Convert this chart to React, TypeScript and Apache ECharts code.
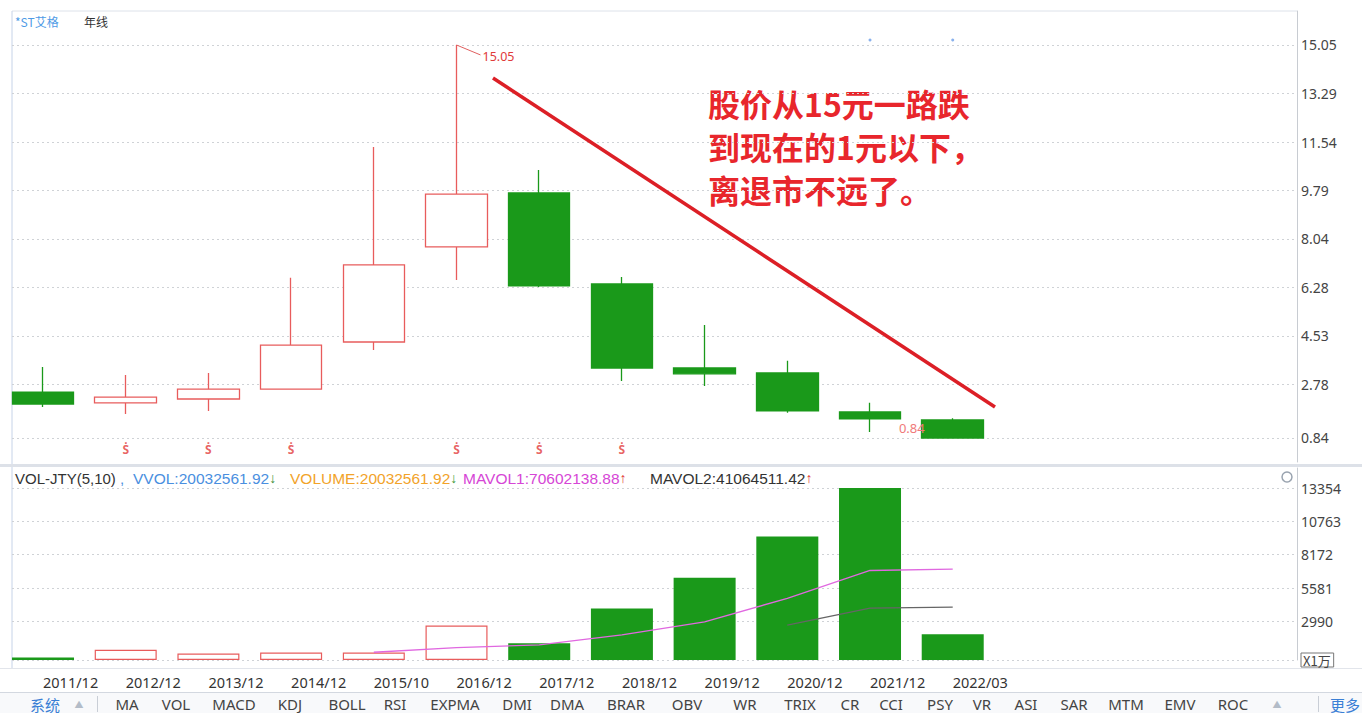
import React, { useEffect, useRef } from 'react';
import * as echarts from 'echarts';

// ---------- data ----------
const categories = ['2011/12', '2012/12', '2013/12', '2014/12', '2015/10', '2016/12', '2017/12', '2018/12', '2019/12', '2020/12', '2021/12', '2022/03'];
const openP = [2.50, 2.11, 2.25, 2.61, 4.31, 7.75, 9.70, 6.41, 3.37, 3.19, 1.78, 1.49];
const closeP = [2.07, 2.32, 2.61, 4.20, 7.10, 9.66, 6.34, 3.37, 3.16, 1.82, 1.53, 0.84];
const lowP = [1.96, 1.71, 1.82, 2.58, 4.02, 6.55, 6.30, 2.90, 2.72, 1.75, 1.06, 0.84];
const highP = [3.41, 3.12, 3.19, 6.63, 11.36, 15.05, 10.53, 6.66, 4.93, 3.63, 2.11, 1.55];
// volume in 万 (x1万)
const volume = [200, 800, 500, 580, 580, 2680, 1300, 4000, 6380, 9580, 13354, 2003];
const mavol1 = [null, null, null, null, 600, 960, 1170, 1950, 2960, 4790, 6950, 7060];
const mavol2 = [null, null, null, null, null, null, null, null, null, 2700, 4030, 4106];
const priceTicks = [0.84, 2.78, 4.53, 6.28, 8.04, 9.79, 11.54, 13.29, 15.05];
const volTicks = [0, 2990, 5581, 8172, 10763, 13354];
const dividendIdx = [1, 2, 3, 5, 6, 7];
const dividendLevel = 0.41;
const topDotIdx = [10, 11];
const topDotLevel = 15.23;
const trendStart = [5.441, 13.857];
const trendEnd = [11.511, 1.961];
const highIdx = 5;
const lowIdx = 11;
const noteLines = ['股价从15元一路跌', '到现在的1元以下，', '离退市不远了。'];
const tabItems = ['MA', 'VOL', 'MACD', 'KDJ', 'BOLL', 'RSI', 'EXPMA', 'DMI', 'DMA', 'BRAR', 'OBV', 'WR', 'TRIX', 'CR', 'CCI', 'PSY', 'VR', 'ASI', 'SAR', 'MTM', 'EMV', 'ROC'];

// ---------- layout ----------
const tabCenters = [127, 176, 234, 290, 347, 395, 455, 517, 567, 626, 687, 745, 800, 850, 891, 940, 982, 1026, 1074, 1126, 1180, 1233];
const FONT = '"Noto Sans", "Noto Sans CJK SC", sans-serif';
const CJK = '"Noto Sans CJK SC", "Noto Sans", sans-serif';
const X_MIN = -0.375;
const X_MAX = 15.163;
const UP_BORDER = '#e85c5c';
const DOWN = '#1a991a';

function buildOption() {
  const candleData = categories.map((_, i) => [i, openP[i], closeP[i], lowP[i], highP[i]]);
  const volData = volume.map((v, i) => ({
    value: [i, v],
    itemStyle: closeP[i] >= openP[i]
      ? { color: '#ffffff', borderColor: UP_BORDER, borderWidth: 1.2 }
      : { color: DOWN, borderColor: DOWN, borderWidth: 0 },
  }));
  const ma1 = mavol1.map((v, i) => [i, v]).filter((p) => p[1] != null);
  const ma2 = mavol2.map((v, i) => [i, v]).filter((p) => p[1] != null);

  const headerSeg = (x: number, text: string, rich: any) => ({
    type: 'text', x, y: 478,
    style: { text, rich, fontSize: 15.5, fontFamily: FONT, verticalAlign: 'middle' },
  });

  const graphic: any[] = [
    { type: 'line', shape: { x1: 12, y1: 11, x2: 1297, y2: 11 }, style: { stroke: '#dde2ea', lineWidth: 1 } },
    { type: 'line', shape: { x1: 12, y1: 11, x2: 12, y2: 668 }, style: { stroke: '#c6d3e8', lineWidth: 1 } },
    { type: 'rect', shape: { x: 0, y: 464, width: 1362, height: 3 }, style: { fill: '#dde1e8' } },
    { type: 'line', shape: { x1: 0, y1: 668.5, x2: 1362, y2: 668.5 }, style: { stroke: '#e2e5eb', lineWidth: 1 } },
    { type: 'rect', shape: { x: 0, y: 693, width: 1362, height: 20 }, style: { fill: '#f8f9fb' } },
    { type: 'line', shape: { x1: 0, y1: 692.5, x2: 1362, y2: 692.5 }, style: { stroke: '#d3d8e0', lineWidth: 1 } },
    // top header
    { type: 'text', x: 15, y: 21, style: { text: '*ST艾格', fill: '#4f9be6', fontSize: 12, fontFamily: CJK, verticalAlign: 'middle' } },
    { type: 'text', x: 84, y: 21, style: { text: '年线', fill: '#333', fontSize: 12, fontFamily: CJK, verticalAlign: 'middle' } },
    // volume header
    headerSeg(15, '{a|VOL-JTY(5,10)}{b| , }', { a: { fill: '#333', fontSize: 15 }, b: { fill: '#4a8fe0', fontSize: 15 } }),
    headerSeg(133, '{a|VVOL:20032561.92}{d|↓}', { a: { fill: '#4a8fe0', fontSize: 15.5 }, d: { fill: '#3c8f3c', fontSize: 14 } }),
    headerSeg(290, '{a|VOLUME:20032561.92}{d|↓}', { a: { fill: '#f2a32a', fontSize: 15.5 }, d: { fill: '#3c9a3c', fontSize: 14 } }),
    headerSeg(463, '{a|MAVOL1:70602138.88}{u|↑}', { a: { fill: '#d646d6', fontSize: 15.5 }, u: { fill: '#e03030', fontSize: 14 } }),
    headerSeg(650, '{a|MAVOL2:41064511.42}{u|↑}', { a: { fill: '#333', fontSize: 15.5 }, u: { fill: '#e03030', fontSize: 14 } }),
    { type: 'circle', shape: { cx: 1287, cy: 477, r: 5 }, style: { fill: 'none', stroke: '#9aa4b0', lineWidth: 1.5 } },
    // annotation text, one line each
    ...noteLines.map((t, i) => ({
      type: 'text', x: 708, y: 103 + i * 43,
      style: { text: t, fill: '#e8262c', fontSize: 32, fontWeight: 'bold', fontFamily: CJK, verticalAlign: 'middle', lineHeight: 34 },
    })),
    // tab row
    { type: 'text', x: 30, y: 704, style: { text: '系统', fill: '#3a7fd5', fontSize: 15, fontFamily: CJK, verticalAlign: 'middle' } },
    { type: 'text', x: 79, y: 704, style: { text: '▲', fill: '#b3bcc8', fontSize: 9, fontFamily: FONT, align: 'center', verticalAlign: 'middle' } },
    { type: 'line', shape: { x1: 97.5, y1: 696, x2: 97.5, y2: 712 }, style: { stroke: '#c9ced6', lineWidth: 1 } },
    ...tabItems.map((t, i) => ({
      type: 'text', x: tabCenters[i], y: 704,
      style: { text: t, fill: '#444', fontSize: 15, fontFamily: FONT, align: 'center', verticalAlign: 'middle' },
    })),
    { type: 'text', x: 1277, y: 704, style: { text: '▲', fill: '#b3bcc8', fontSize: 9, fontFamily: FONT, align: 'center', verticalAlign: 'middle' } },
    { type: 'line', shape: { x1: 1318.5, y1: 696, x2: 1318.5, y2: 712 }, style: { stroke: '#c9ced6', lineWidth: 1 } },
    { type: 'text', x: 1330, y: 704, style: { text: '更多', fill: '#3a7fd5', fontSize: 15, fontFamily: CJK, verticalAlign: 'middle' } },
  ];

  return {
    animation: false,
    backgroundColor: '#ffffff',
    textStyle: { fontFamily: FONT },
    grid: [
      { left: 12, right: 65, top: 11, height: 451, outerBoundsMode: 'none', containLabel: false },
      { left: 12, right: 65, top: 468, height: 192, outerBoundsMode: 'none', containLabel: false },
    ],
    xAxis: [
      { type: 'value', gridIndex: 0, min: X_MIN, max: X_MAX, show: false, splitLine: { show: false } },
      {
        type: 'value', gridIndex: 1, min: X_MIN, max: X_MAX,
        axisLine: { show: false, onZero: false }, axisTick: { show: false, customValues: categories.map((_, i) => i) },
        splitLine: { show: false },
        axisLabel: {
          customValues: categories.map((_, i) => i),
          formatter: (v: number) => categories[Math.round(v)] ?? '',
          align: 'left', margin: 15, fontSize: 14.5, color: '#333', fontFamily: FONT,
        },
      },
    ],
    yAxis: [
      {
        type: 'value', gridIndex: 0, position: 'right', min: -0.028, max: 16.279,
        axisLine: { show: true, onZero: false, lineStyle: { color: '#c8ccd2' } },
        axisTick: { show: false, customValues: priceTicks },
        axisLabel: {
          customValues: priceTicks, formatter: (v: number) => v.toFixed(2),
          margin: 4, fontSize: 14, color: '#444', fontFamily: FONT,
        },
        splitLine: { show: true, lineStyle: { color: '#cfd2d6', type: [2, 3], width: 1 } },
      },
      {
        type: 'value', gridIndex: 1, position: 'right', min: 0, max: 14907,
        axisLine: { show: true, onZero: false, lineStyle: { color: '#c8ccd2' } },
        axisTick: { show: false, customValues: volTicks },
        axisLabel: {
          customValues: volTicks,
          formatter: (v: number) => (v === 0 ? '{u|X1万}' : String(v)),
          margin: 4, fontSize: 14, color: '#444', fontFamily: FONT,
          rich: { u: { fontSize: 13, color: '#444', fontFamily: CJK, borderColor: '#777', borderWidth: 1, padding: [1, 3, 0, 2] } },
        },
        splitLine: { show: true, lineStyle: { color: '#cfd2d6', type: [2, 3], width: 1 } },
      },
    ],
    series: [
      {
        type: 'candlestick', xAxisIndex: 0, yAxisIndex: 0,
        data: candleData, barWidth: 62,
        itemStyle: { color: '#ffffff', color0: DOWN, borderColor: UP_BORDER, borderColor0: DOWN, borderWidth: 1.3 },
        markLine: {
          silent: true, symbol: ['none', 'none'], label: { show: false },
          data: [
            [{ coord: trendStart, lineStyle: { color: '#dc1f26', width: 3.5, type: 'solid' } }, { coord: trendEnd }],
            [{ coord: [highIdx, highP[highIdx]], lineStyle: { color: '#e06060', width: 1, type: 'solid' } }, { coord: [highIdx + 0.29, highP[highIdx] - 0.36] }],
          ],
        },
        markPoint: {
          silent: true, symbol: 'circle', symbolSize: 0,
          data: [
            {
              coord: [highIdx, highP[highIdx]], value: highP[highIdx],
              label: { show: true, formatter: highP[highIdx].toFixed(2), position: [26, 5], align: 'left', verticalAlign: 'top', color: '#e03a3a', fontSize: 12.5, fontFamily: FONT },
            },
            {
              coord: [lowIdx, lowP[lowIdx]], value: lowP[lowIdx],
              label: { show: true, formatter: lowP[lowIdx].toFixed(2), position: [-28, -10], align: 'right', verticalAlign: 'middle', color: '#f07a7a', fontSize: 13, fontFamily: FONT },
            },
          ],
        },
      },
      {
        type: 'scatter', xAxisIndex: 0, yAxisIndex: 0, silent: true,
        data: dividendIdx.map((i) => [i, dividendLevel]),
        symbol: 'circle', symbolSize: 1, itemStyle: { color: 'rgba(0,0,0,0)' },
        label: { show: true, position: 'inside', formatter: 'Ṡ', color: '#e23a3a', fontSize: 12, fontWeight: 'bold', fontFamily: FONT },
      },
      {
        type: 'scatter', xAxisIndex: 0, yAxisIndex: 0, silent: true,
        data: topDotIdx.map((i) => [i, topDotLevel]),
        symbol: 'circle', symbolSize: 3, itemStyle: { color: '#6b9de8' },
      },
      {
        type: 'bar', xAxisIndex: 1, yAxisIndex: 1, barWidth: 62, data: volData,
      },
      {
        type: 'line', xAxisIndex: 1, yAxisIndex: 1, data: ma1, showSymbol: false,
        lineStyle: { color: '#e068e0', width: 1.3 }, itemStyle: { color: '#e068e0' },
      },
      {
        type: 'line', xAxisIndex: 1, yAxisIndex: 1, data: ma2, showSymbol: false,
        lineStyle: { color: '#666', width: 1.3 }, itemStyle: { color: '#666' },
      },
    ],
    graphic,
  };
}

export default function App() {
  const ref = useRef<HTMLDivElement>(null);
  useEffect(() => {
    if (!ref.current) return;
    const chart = echarts.init(ref.current, undefined, { renderer: 'svg' });
    chart.setOption(buildOption() as any);
    return () => chart.dispose();
  }, []);
  return (
    <div
      ref={ref}
      style={{ position: 'fixed', left: 0, top: 0, width: 1362, height: 713, background: '#fff' }}
    />
  );
}
